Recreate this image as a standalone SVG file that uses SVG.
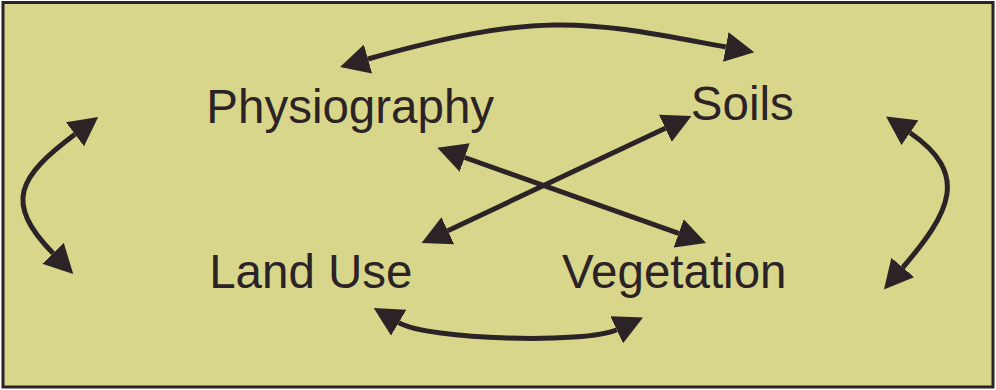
<svg xmlns="http://www.w3.org/2000/svg" width="996" height="390" viewBox="0 0 996 390">
  <style>
    .lbl { font-family: "Liberation Sans", Arial, sans-serif; font-size: 47.5px; fill: #2b2326; }
    .conn { fill: none; stroke: #2b2326; stroke-width: 5; }
  </style>
  <defs>
    <marker id="ah" markerUnits="userSpaceOnUse" viewBox="0 0 29 30" markerWidth="29" markerHeight="30" refX="0" refY="15" orient="auto-start-reverse">
      <path d="M0,0 L29,15 L0,30 Z" fill="#2b2326"/>
    </marker>
  </defs>
  <rect x="3" y="2.5" width="990" height="384.5" fill="#d8d68a" stroke="#2b2326" stroke-width="3"/>
  <g id="connectors">
    <path class="conn" d="M368,59 C545,9 590,22 725.8,47" marker-start="url(#ah)" marker-end="url(#ah)"/>
    <path class="conn" d="M75,134.3 C18.2,176.9 3.3,202.2 53,253.3" marker-start="url(#ah)" marker-end="url(#ah)"/>
    <path class="conn" d="M910,132.8 C970.2,174 950.3,212 902.8,267.5" marker-start="url(#ah)" marker-end="url(#ah)"/>
    <path class="conn" d="M398.7,322.7 C428,340 586,344 616.7,329.7" marker-start="url(#ah)" marker-end="url(#ah)"/>
    <path class="conn" d="M464.7,157.5 L678.7,233.3" marker-start="url(#ah)" marker-end="url(#ah)"/>
    <path class="conn" d="M447.8,230.7 L665.3,128.3" marker-start="url(#ah)" marker-end="url(#ah)"/>
  </g>
  <g id="physiography"><text class="lbl" x="206.3" y="122.7">Physiography</text></g>
  <g id="soils"><text class="lbl" x="690.8" y="119.5">Soils</text></g>
  <g id="landuse"><text class="lbl" x="209.2" y="288.3">Land Use</text></g>
  <g id="vegetation"><text class="lbl" x="562" y="288.3">Vegetation</text></g>
</svg>
